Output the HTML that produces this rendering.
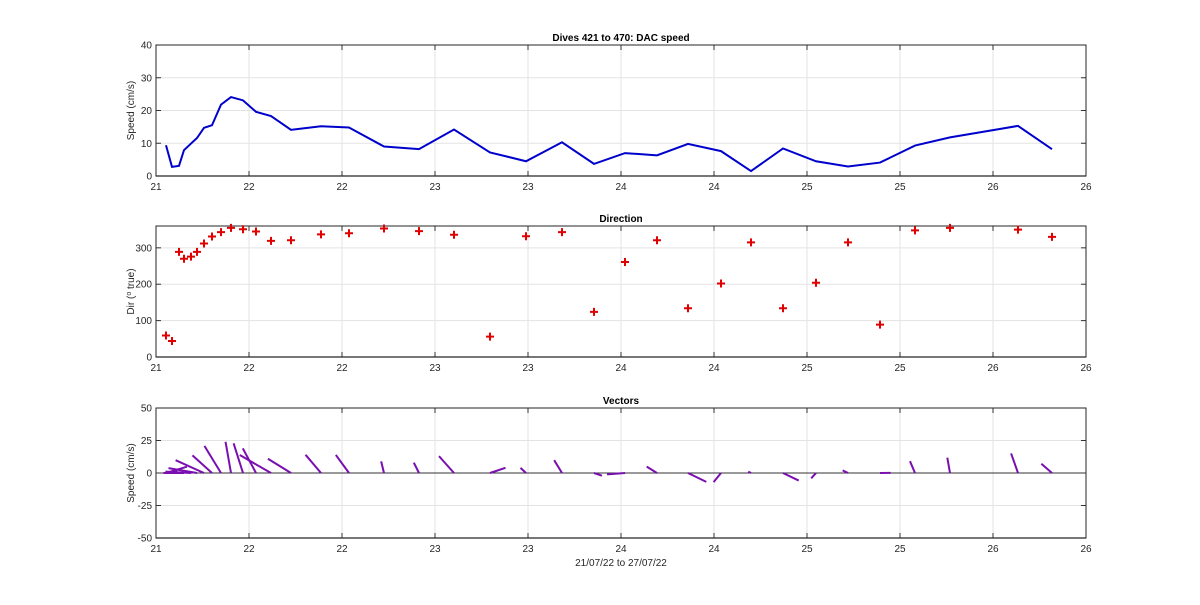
<!DOCTYPE html>
<html><head><meta charset="utf-8"><style>
body{margin:0;background:#fff;}
svg{display:block;font-family:"Liberation Sans",sans-serif;}
</style></head><body>
<svg id="fig" width="1200" height="605" viewBox="0 0 1200 605" xmlns="http://www.w3.org/2000/svg"></svg>
<script>
// ---- data ----
const times = [166,172,179,184,191,197,204,212,221,231,243,256,271,291,321,349,384,419,454,490,526,562,594,625,657,688,721,751,783,816,848,880,915,950,1018,1052].map(p=>21+(p-156)/186);
const speeds = [9.4,2.8,3.1,7.9,9.9,11.6,14.7,15.5,21.8,24.1,23.1,19.6,18.3,14.1,15.2,14.8,9.0,8.2,14.2,7.2,4.5,10.3,3.7,7.0,6.3,9.8,7.6,1.5,8.4,4.5,2.9,4.1,9.3,11.8,15.3,8.2];
const dirs = [59,44,289,270,276,289,312,331,343,355,351,345,319,321,337,340,353,346,336,56,332,343,124,261,321,134,202,315,134,204,315,89,348,355,350,330];
const xTickLabels = ["21","22","22","23","23","24","24","25","25","26","26"];
const ticks1 = [0,10,20,30,40];
const ticks2 = [0,100,200,300];
const ticks3 = [-50,-25,0,25,50];

const NS="http://www.w3.org/2000/svg";
const svg=document.getElementById('fig');
function el(tag,attrs,parent){const e=document.createElementNS(NS,tag);for(const k in attrs)e.setAttribute(k,attrs[k]);(parent||svg).appendChild(e);return e;}
const X0=156,X1=1086,T0=21,T1=26;
const sx=t=>X0+(t-T0)/(T1-T0)*(X1-X0);

function axes(name,top,bot,ymin,ymax,yticks,title,ylabel){
  const g=el('g',{});
  
  
  const sy=v=>bot-(v-ymin)/(ymax-ymin)*(bot-top);
  for(let i=0;i<=10;i++){const x=X0+i*(X1-X0)/10;
    const gl=el('line',{x1:x,x2:x,y1:top,y2:bot,stroke:'#e3e3e3','stroke-width':1},g);
    
    el('line',{x1:x,x2:x,y1:bot,y2:bot-5,stroke:'#333'},g);
    el('line',{x1:x,x2:x,y1:top,y2:top+5,stroke:'#333'},g);
    const tl=el('text',{x:x,y:bot+14,'font-size':10,'text-anchor':'middle',fill:'#262626'},g);tl.textContent=xTickLabels[i];
    
  }
  yticks.forEach(v=>{const y=sy(v);
    const gl=el('line',{x1:X0,x2:X1,y1:y,y2:y,stroke:'#e3e3e3'},g);
    
    el('line',{x1:X0,x2:X0+5,y1:y,y2:y,stroke:'#333'},g);
    el('line',{x1:X1,x2:X1-5,y1:y,y2:y,stroke:'#333'},g);
    const tl=el('text',{x:X0-4,y:y+3.5,'font-size':10,'text-anchor':'end',fill:'#262626'},g);tl.textContent=v;
    
  });
  el('rect',{x:X0,y:top,width:X1-X0,height:bot-top,fill:'none',stroke:'#262626','stroke-width':1},g);
  el('line',{x1:X0,x2:X1,y1:bot,y2:bot,stroke:'#262626','stroke-width':1.3},g);
  const tt=el('text',{x:(X0+X1)/2,y:top-4,'font-size':10,'font-weight':'bold','text-anchor':'middle',fill:'#000'},g);tt.textContent=title;
  
  const yl=el('text',{x:0,y:0,'font-size':10,'text-anchor':'middle',fill:'#262626',transform:`translate(${X0-22},${(top+bot)/2}) rotate(-90)`},g);yl.innerHTML=ylabel;
  
  return {g,sy};
}

// speed
const a1=axes('speed-axes',45,176,0,40,ticks1,'Dives 421 to 470: DAC speed','Speed (cm/s)');
const pl=el('polyline',{points:times.map((t,i)=>sx(t)+','+a1.sy(speeds[i])).join(' '),fill:'none',stroke:'#0000cc','stroke-width':2},a1.g);


// direction
const a2=axes('direction-axes',226,357,0,360,ticks2,'Direction','Dir (<tspan baseline-shift="super" font-size="7">o</tspan> true)');
times.forEach((t,i)=>{const x=sx(t),y=a2.sy(dirs[i]);
  const p=el('path',{d:`M${x-4},${y}H${x+4}M${x},${y-4}V${y+4}`,stroke:'#e00000','stroke-width':2},a2.g);
  
});

// vectors
const a3=axes('vectors-axes',408,538,-50,50,ticks3,'Vectors','Speed (cm/s)');
el('line',{x1:X0,x2:X1,y1:a3.sy(0),y2:a3.sy(0),stroke:'#333','stroke-width':1},a3.g);
const XS=2.6;
times.forEach((t,i)=>{const r=dirs[i]*Math.PI/180;const u=speeds[i]*Math.sin(r),v=speeds[i]*Math.cos(r);
  const x=sx(t);
  const l=el('line',{x1:x,y1:a3.sy(0),x2:x+u*XS,y2:a3.sy(v),stroke:'#7a0fb0','stroke-width':2},a3.g);
  
});
const xl=el('text',{x:(X0+X1)/2,y:566,'font-size':10,'text-anchor':'middle',fill:'#262626'});xl.textContent='21/07/22 to 27/07/22';

</script>
</body></html>
